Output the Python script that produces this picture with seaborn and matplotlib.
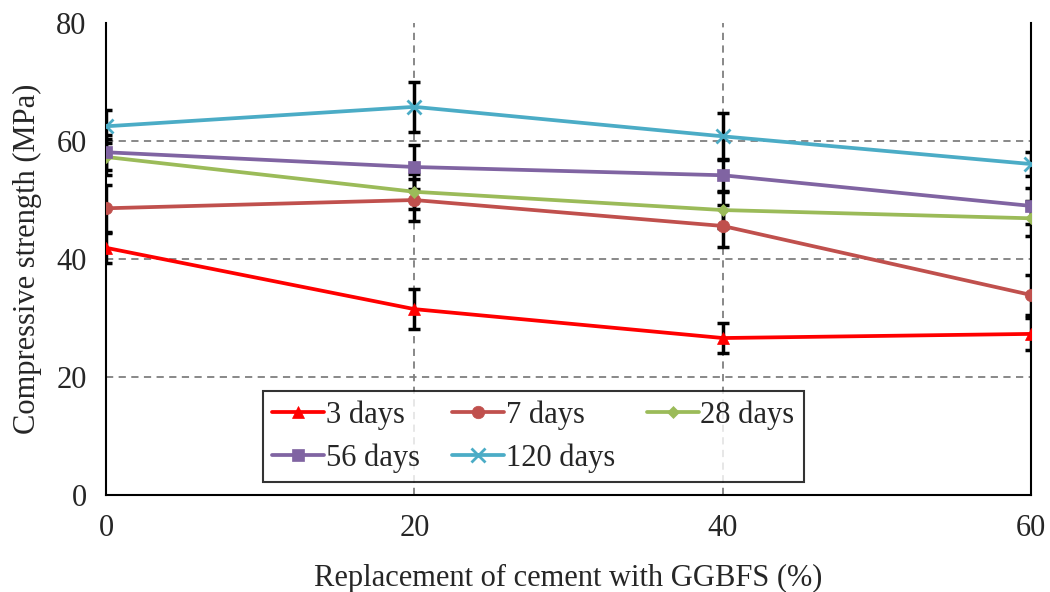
import numpy as np
import pandas as pd
import matplotlib
matplotlib.use("Agg")
import matplotlib.pyplot as plt
import seaborn as sns

# Données
replacement = [0, 20, 40, 60]
series_names = ["3 days", "7 days", "28 days", "56 days", "120 days"]
strength_3d = [41.9, 31.5, 26.6, 27.3]
strength_7d = [48.6, 50.0, 45.6, 33.9]
strength_28d = [57.3, 51.4, 48.3, 46.9]
strength_56d = [58.1, 55.6, 54.2, 49.0]
strength_120d = [62.5, 65.8, 60.8, 56.1]
err_3d = [2.5, 3.4, 2.5, 2.7]
err_7d = [4.0, 3.5, 3.5, 3.4]
err_28d = [3.0, 3.0, 3.0, 3.0]
err_56d = [3.0, 3.7, 2.7, 3.0]
err_120d = [2.8, 4.2, 4.0, 2.1]

values = [strength_3d, strength_7d, strength_28d, strength_56d, strength_120d]
errors = [err_3d, err_7d, err_28d, err_56d, err_120d]
colors = ["#FF0000", "#C0504D", "#9BBB59", "#8064A2", "#4BACC6"]
markers = ["^", "o", "D", "s", "x"]
marker_sizes = [9, 9, 6, 9, 10]

sns.set_style("white")
plt.rcParams["font.family"] = ["Liberation Serif", "DejaVu Serif"]

fig = plt.figure(figsize=(10.5, 5.92), dpi=100)
ax = fig.add_axes([0.101, 0.164, 0.881, 0.797])

# Barres d'erreur sous les courbes
for vals, errs in zip(values, errors):
    ax.errorbar(replacement, vals, yerr=errs, fmt="none", ecolor="black",
                elinewidth=2.5, capsize=4, capthick=2.5, zorder=2)

for name, vals, col, mk, ms in zip(series_names, values, colors, markers, marker_sizes):
    df = pd.DataFrame({"x": replacement, "y": vals})
    sns.lineplot(data=df, x="x", y="y", ax=ax, color=col, marker=mk,
                 markersize=ms, markeredgecolor=col,
                 markeredgewidth=2 if mk == "x" else 0.5,
                 linewidth=2.7, label=name, zorder=3)

ax.set_xlim(0, 60)
ax.set_ylim(0, 80)
ax.set_xticks([0, 20, 40, 60])
ax.set_yticks([0, 20, 40, 60, 80])
ax.tick_params(axis="both", direction="inout", length=12, width=1.2,
               labelsize=22, colors="black", labelcolor="#262626", pad=8)

# Quadrillage en pointillés
for yv in [20, 40, 60]:
    ax.axhline(yv, color="#7F7F7F", linestyle=(0, (4, 3)), linewidth=1.3, zorder=1)
for xv in [20, 40]:
    ax.axvline(xv, color="#7F7F7F", linestyle=(0, (4, 3)), linewidth=1.3, zorder=1)

for side in ["left", "bottom", "right"]:
    ax.spines[side].set_color("black")
    ax.spines[side].set_linewidth(1.5)
ax.spines["top"].set_visible(False)

ax.set_xlabel("Replacement of cement with GGBFS (%)", fontsize=22, labelpad=15,
              color="#262626")
ax.set_ylabel("Compressive strength (MPa)", fontsize=22, labelpad=10,
              color="#262626")

# Légende remplie ligne par ligne (3 colonnes)
handles, labels = ax.get_legend_handles_labels()
order = [0, 3, 1, 4, 2]
leg = ax.legend([handles[i] for i in order], [labels[i] for i in order],
                loc="lower left", bbox_to_anchor=(0.17, 0.027), ncol=3,
                fontsize=22, frameon=True, fancybox=False, handlelength=1.7,
                handletextpad=0.05, columnspacing=1.05, borderpad=0.3,
                labelspacing=0.45, borderaxespad=0)
leg.get_frame().set_edgecolor("black")
leg.get_frame().set_linewidth(1.5)
leg.set_zorder(5)
for txt in leg.get_texts():
    txt.set_color("#262626")

fig.savefig("out.png", dpi=100)
